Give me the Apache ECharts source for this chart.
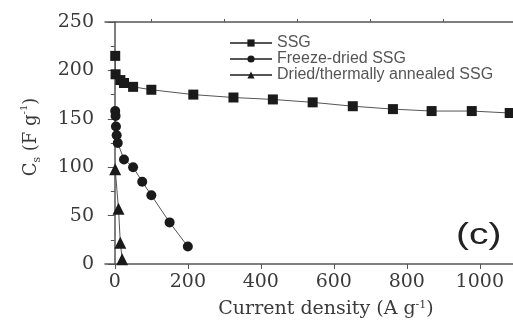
<!DOCTYPE html>
<html><head><meta charset="utf-8">
<script src="https://cdn.jsdelivr.net/npm/echarts@6/dist/echarts.min.js"></script>
<style>html,body{margin:0;padding:0;background:#fff;}#c{width:513px;height:320px;}</style>
</head><body><div id="c"></div>
<script>
const ssgX = [1, 2, 15, 25, 50, 100, 215, 325, 433, 542, 652, 762, 868, 978, 1082];
const ssgY = [215, 196, 190, 187, 183, 180, 175, 172, 170, 167, 163, 160, 158, 158, 156];
const fdX = [1, 2, 3, 5, 8, 25, 50, 75, 100, 150, 200];
const fdY = [158, 153, 142, 133, 125, 108, 100, 85, 71, 43, 18];
const taX = [1, 10, 15, 20];
const taY = [98, 57, 22, 5];
const xMajor = [0, 200, 400, 600, 800, 1000];
const xMinor = [100, 300, 500, 700, 900];
const names = ['SSG', 'Freeze-dried SSG', 'Dried/thermally annealed SSG'];

const zip = (a, b) => a.map((v, i) => [v, b[i]]);
const chart = echarts.init(document.getElementById('c'), null, {renderer: 'canvas'});
const axisCol = '#555';
const txtCol = '#3a3a3a';
const serif = 'DejaVu Serif';
const xMin = -27, xMax = 1091;

const mk = (name, data, symbol, size) => ({
  name, type: 'line', data, symbol, symbolSize: size,
  xAxisIndex: 0, yAxisIndex: 0,
  itemStyle: {color: '#1a1a1a'},
  lineStyle: {color: '#555', width: 1},
  emphasis: {disabled: true}, animation: false
});

chart.setOption({
  animation: false,
  grid: {left: 105, right: 0, top: 22, bottom: 56, containLabel: false, outerBoundsMode: 'none'},
  legend: {
    orient: 'vertical', left: 224, top: 30, itemWidth: 42, itemHeight: 9, itemGap: 0,
    textStyle: {fontFamily: 'Liberation Sans', fontSize: 16, lineHeight: 16, color: '#555'},
    data: names
  },
  xAxis: [
    {type: 'value', min: xMin, max: xMax,
     name: 'Current density (A g{sup|-1})', nameLocation: 'middle', nameGap: 36,
     nameTextStyle: {fontFamily: serif, fontSize: 19, color: txtCol, padding: [0, 0, 0, 34],
       rich: {sup: {fontFamily: serif, fontSize: 11, verticalAlign: 'top', color: txtCol}}},
     axisLine: {lineStyle: {color: axisCol, width: 1.5}},
     axisTick: {customValues: xMajor, length: 5, lineStyle: {color: axisCol}},
     axisLabel: {customValues: xMajor, margin: 9, fontFamily: serif, fontSize: 19, color: txtCol,
       formatter: v => String(v)},
     splitLine: {show: false}},
    {type: 'value', min: xMin, max: xMax, gridIndex: 0,
     axisLine: {show: false},
     axisTick: {customValues: xMinor, length: 3, lineStyle: {color: axisCol}},
     axisLabel: {show: false}, splitLine: {show: false}},
    {type: 'value', min: xMin, max: xMax, position: 'top',
     axisLine: {lineStyle: {color: axisCol, width: 1.5}},
     axisTick: {show: false}, axisLabel: {show: false}, splitLine: {show: false}}
  ],
  yAxis: [{
    type: 'value', min: 0, max: 250, interval: 50,
    name: '{a|C}{s|s}{a| (F g}{sup|-1}{a|)}', nameLocation: 'middle', nameGap: 62,
    nameTextStyle: {fontFamily: serif, fontSize: 18, color: txtCol, padding: [0, 0, 0, 12],
      rich: {
        a: {fontFamily: serif, fontSize: 18, color: txtCol, lineHeight: 24},
        s: {fontFamily: serif, fontSize: 11, color: txtCol, verticalAlign: 'bottom', lineHeight: 24},
        sup: {fontFamily: serif, fontSize: 10, color: txtCol, verticalAlign: 'top', lineHeight: 24}
      }},
    axisLine: {show: true, lineStyle: {color: axisCol, width: 1.5}},
    axisTick: {show: true, length: 7, lineStyle: {color: axisCol}},
    minorTick: {show: true, splitNumber: 2, length: 4, lineStyle: {color: axisCol}},
    axisLabel: {margin: 11, fontFamily: serif, fontSize: 19, color: txtCol},
    splitLine: {show: false}
  }],
  graphic: [{
    type: 'text', left: 456, top: 221, scaleX: 1.3,
    style: {text: '(c)', fontFamily: 'Liberation Sans', fontSize: 30, fill: '#222'}
  }],
  series: [
    mk(names[0], zip(ssgX, ssgY), 'rect', 10),
    mk(names[1], zip(fdX, fdY), 'circle', 10),
    mk(names[2], zip(taX, taY), 'triangle', 12)
  ]
});
</script></body></html>
